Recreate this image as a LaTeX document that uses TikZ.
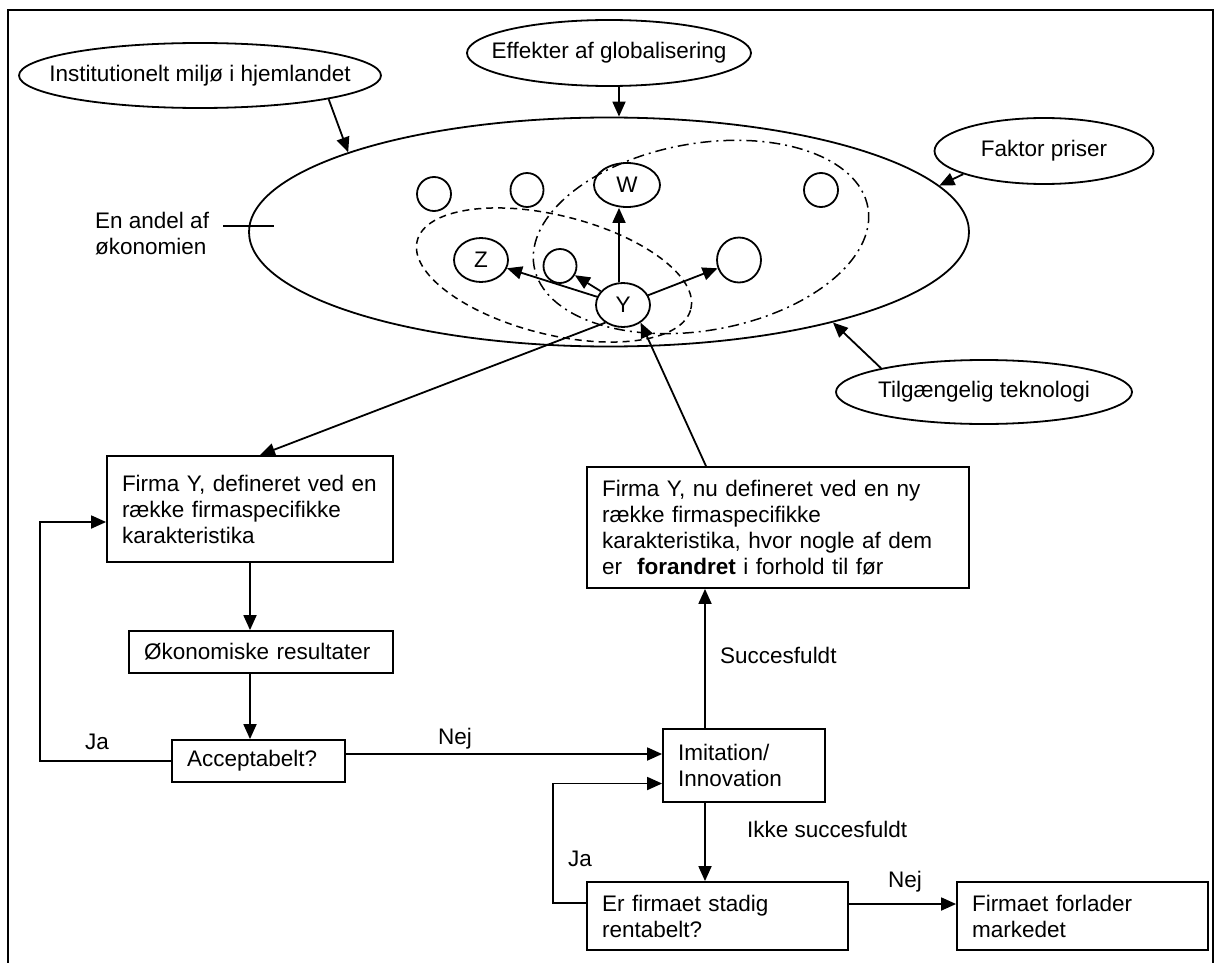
\documentclass[tikz,border=0pt]{standalone}
\usepackage{fontspec}
\setmainfont{Liberation Sans}
\usetikzlibrary{shapes.geometric,arrows.meta}

\tikzset{
	influence/.style={draw, ellipse, line width=1.8pt, inner sep=0pt},
	firm/.style={draw, ellipse, line width=1.8pt, inner sep=0pt},
	box/.style={draw, rectangle, line width=1.8pt, inner xsep=15pt, inner ysep=0pt, align=left},
	txt/.style={inner sep=0pt},
	conn/.style={->, line width=1.8pt},
}

\begin{document}
\begin{tikzpicture}[x=1pt, y=-1pt, >={Triangle[length=15pt,width=13pt]},
	font=\fontsize{22.5}{26}\selectfont]
\useasboundingbox (0,0) rectangle (1218,963);

% Frame
\draw[line width=1.8pt] (8,963) -- (8,10) -- (1213,10) -- (1213,963);

% Economy and groups of firms
\node[firm, minimum width=720pt, minimum height=229pt] (oko) at (609,232) {};
\node[draw, ellipse, line width=1.5pt, dash pattern=on 7pt off 5pt,
	minimum width=282pt, minimum height=119pt, rotate=-14] (grpZ) at (554,275) {};
\node[draw, ellipse, line width=1.5pt, dash pattern=on 11pt off 5pt on 2pt off 5pt,
	minimum width=339pt, minimum height=187pt, rotate=10] (grpW) at (701,237) {};

% Influences
\node[influence, minimum width=362pt, minimum height=65pt]
	(inst) at (200,75.5) {\makebox[0pt]{Institutionelt miljø i hjemlandet}};
\node[influence, minimum width=284pt, minimum height=66pt]
	(glob) at (609,53) {\makebox[0pt]{Effekter af globalisering}};
\node[influence, minimum width=219pt, minimum height=66pt]
	(pris) at (1044,151) {\makebox[0pt]{Faktor priser}};
\node[influence, minimum width=296pt, minimum height=64pt]
	(tek) at (984,392) {\makebox[0pt]{Tilgængelig teknologi}};

\node[txt, anchor=north west, align=left] (andel) at (95,212) {En andel af\\økonomien};
\coordinate (tickB) at (274,226);
\draw[line width=1.8pt] (andel.east |- tickB) ++(14,0) -- (tickB);

% Firms
\node[firm, minimum width=54pt, minimum height=44pt] (Y) at (623,305) {Y};
\node[firm, minimum width=66pt, minimum height=44pt] (W) at (627,185) {W};
\node[firm, minimum width=54pt, minimum height=44pt] (Z) at (481,260) {Z};
\foreach \i/\x/\y/\w/\h in {1/434/194/34/34, 2/527/190/33/34, 3/821/190/34/34,
	4/560/266/33/34, 5/739/260/44/45}
{
	\node[firm, minimum width=\w pt, minimum height=\h pt] (F-\i) at (\x,\y) {};
}

% Connect Y to other firms
\draw[conn] ([xshift=-4pt]Y.north) -- ([xshift=-4pt]Y.north |- W.south);
\draw[conn] (Y) -- (Z);
\draw[conn] (Y) -- (F-4);
\draw[conn] (Y) -- (F-5);

% Influences on the economy
\draw[conn] (inst.south east) -- (oko.163);
\draw[conn] ([xshift=10pt]glob.south) -- ([xshift=10pt]glob.south |- oko.north);
\draw[conn] (pris.196) -- (oko.8);
\draw[conn] (tek.167) -- (oko.-22);

% Flow
\node[box, text width=256pt, minimum height=106pt] (firmaY) at (250,509)
	{Firma Y, defineret ved en\\række firmaspecifikke\\karakteristika};
\node[box, text width=234pt, minimum height=42pt] (okres) at (261,652)
	{Økonomiske resultater};
\node[box, text width=143pt, minimum height=42pt] (acc) at (258.5,761)
	{Acceptabelt?};
\node[box, text width=352pt, minimum height=121pt] (nyFirma) at (778,527.5)
	{Firma Y, nu defineret ved en ny\\række firmaspecifikke\\karakteristika, hvor nogle af dem\\er~ \textbf{forandret} i forhold til før};
\node[box, text width=132pt, minimum height=73pt] (imit) at (744,765.5)
	{Imitation/\\Innovation};
\node[box, text width=231pt, minimum height=68pt] (rent) at (717.5,916)
	{Er firmaet stadig\\rentabelt?};
\node[box, text width=221pt, minimum height=68pt] (exit) at (1082.5,916)
	{Firmaet forlader\\markedet};

% Labels
\node[txt, anchor=west] (ja1) at (85,742) {Ja};
\node[txt, anchor=west] (nej1) at (438,739) {Nej};
\node[txt, anchor=west] (ja2) at (568,859) {Ja};
\node[txt, anchor=west] (succ) at (720,655) {Succesfuldt};
\node[txt, anchor=west] (ikke) at (747,829) {Ikke succesfuldt};
\node[txt, anchor=west] (nej2) at (888,882) {Nej};

% Connect boxes
\draw[conn] (Y.225) -- ([xshift=10pt]firmaY.north);
\draw[conn] ([xshift=-72pt]nyFirma.north) -- (Y.315);
\draw[conn] (firmaY.south) -- (firmaY.south |- okres.north);
\draw[conn] (firmaY.south |- okres.south) -- (firmaY.south |- acc.north);
\draw[conn] (acc.west) -- ++(-131,0) |- ([yshift=-13pt]firmaY.west);
\draw[conn] ([yshift=7pt]acc.east) -- ([yshift=7pt]acc.east -| imit.west);
\draw[conn] ([xshift=-39pt]imit.north) -- ([xshift=-39pt]imit.north |- nyFirma.south);
\draw[conn] ([xshift=-39pt]imit.south) -- ([xshift=-39pt]imit.south |- rent.north);
\draw[conn] ([yshift=13pt]rent.west) -- ++(-33,0) |- ([yshift=-18pt]imit.west);
\draw[conn] ([yshift=12pt]rent.east) -- ([yshift=12pt]rent.east -| exit.west);
\end{tikzpicture}
\end{document}
